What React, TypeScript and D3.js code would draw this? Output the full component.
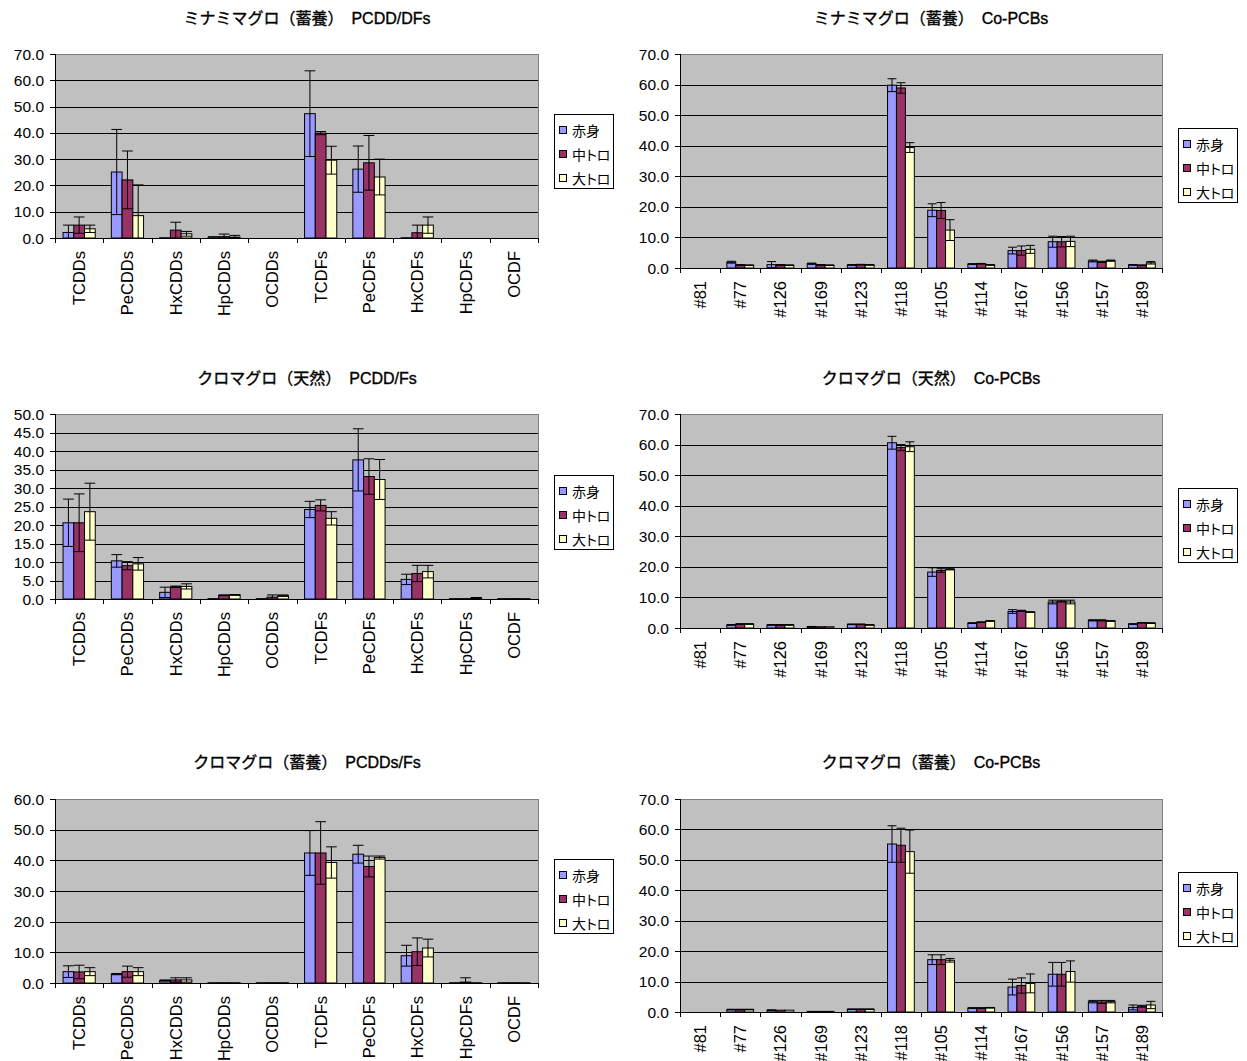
import { useEffect, useRef } from 'react';
import * as d3 from 'd3';

// 系列
const seriesNames = ['赤身', '中トロ', '大トロ'];
const seriesColors = ['#9999FF', '#993366', '#FFFFCC'];

// カテゴリ
const pcddCats = ['TCDDs', 'PeCDDs', 'HxCDDs', 'HpCDDs', 'OCDDs', 'TCDFs', 'PeCDFs', 'HxCDFs', 'HpCDFs', 'OCDF'];
const pcbCats = ['#81', '#77', '#126', '#169', '#123', '#118', '#105', '#114', '#167', '#156', '#157', '#189'];

// ミナミマグロ（蓄養） PCDD/DFs
const p1Akami = [2.1, 25.1, 0.1, 0.1, 0, 47.3, 26.2, 0.1, 0, 0];
const p1AkamiSd = [2.8, 16.2, 0, 0.4, 0, 16.3, 8.8, 0, 0, 0];
const p1Chutoro = [4.9, 22.1, 3.0, 0.5, 0, 39.9, 28.6, 2.0, 0, 0];
const p1ChutoroSd = [3.1, 11.0, 3.0, 1.0, 0, 0.6, 10.4, 2.9, 0, 0];
const p1Otoro = [3.5, 8.5, 1.6, 0.3, 0, 29.6, 23.2, 4.9, 0, 0];
const p1OtoroSd = [1.4, 11.7, 0.9, 0.7, 0, 5.3, 6.8, 3.1, 0, 0];

// ミナミマグロ（蓄養） Co-PCBs
const p2Akami = [0, 1.9, 1.1, 1.4, 1.0, 59.8, 18.9, 1.3, 5.7, 8.6, 2.3, 1.0];
const p2AkamiSd = [0, 0.3, 1.0, 0.2, 0.1, 2.1, 2.1, 0.1, 1.1, 1.8, 0.3, 0.1];
const p2Chutoro = [0, 1.0, 1.0, 1.0, 1.1, 58.9, 18.8, 1.4, 5.7, 8.6, 2.0, 0.9];
const p2ChutoroSd = [0, 0.1, 0.1, 0.1, 0.1, 1.7, 2.6, 0.1, 1.5, 1.7, 0.2, 0.1];
const p2Otoro = [0, 0.9, 0.9, 0.9, 1.0, 39.4, 12.4, 1.0, 6.1, 8.7, 2.4, 1.7];
const p2OtoroSd = [0, 0.1, 0.1, 0.1, 0.1, 1.6, 3.4, 0.1, 1.3, 1.7, 0.2, 0.4];

// クロマグロ（天然） PCDD/Fs
const p3Akami = [20.6, 10.3, 1.8, 0.1, 0.1, 24.2, 37.6, 5.3, 0.1, 0.1];
const p3AkamiSd = [6.4, 1.7, 1.4, 0, 0, 2.2, 8.4, 1.4, 0, 0];
const p3Chutoro = [20.6, 9.0, 3.3, 1.0, 0.5, 25.3, 33.1, 6.9, 0.1, 0.1];
const p3ChutoroSd = [7.8, 1.1, 0.2, 0.1, 0.6, 1.5, 4.8, 2.2, 0, 0];
const p3Otoro = [23.6, 9.5, 3.4, 1.1, 0.9, 21.8, 32.3, 7.4, 0.3, 0.1];
const p3OtoroSd = [7.7, 1.7, 0.7, 0.1, 0.2, 1.8, 5.4, 1.7, 0.1, 0];

// クロマグロ（天然） Co-PCBs
const p4Akami = [0, 1.0, 1.0, 0.4, 1.2, 60.6, 18.3, 1.6, 5.4, 8.5, 2.5, 1.3];
const p4AkamiSd = [0, 0.1, 0.1, 0.1, 0.1, 2.1, 1.4, 0.1, 0.6, 0.6, 0.2, 0.1];
const p4Chutoro = [0, 1.3, 1.0, 0.4, 1.2, 59.0, 18.8, 1.9, 5.6, 8.8, 2.5, 1.7];
const p4ChutoroSd = [0, 0.1, 0.1, 0, 0.1, 1.0, 0.6, 0.1, 0.2, 0.3, 0.2, 0.1];
const p4Otoro = [0, 1.3, 1.0, 0.4, 1.0, 59.3, 19.2, 2.3, 5.2, 8.5, 2.3, 1.6];
const p4OtoroSd = [0, 0.1, 0.1, 0, 0.1, 1.6, 0.2, 0.1, 0.1, 0.6, 0.1, 0.1];

// クロマグロ（蓄養） PCDDs/Fs
const p5Akami = [3.7, 2.9, 0.8, 0.1, 0.1, 42.4, 42.0, 8.9, 0.1, 0.1];
const p5AkamiSd = [1.9, 0.2, 0.2, 0, 0, 7.3, 2.9, 3.4, 0, 0];
const p5Chutoro = [3.6, 3.7, 1.0, 0.1, 0.1, 42.4, 38.0, 10.2, 0.3, 0.1];
const p5ChutoroSd = [2.2, 1.8, 0.7, 0, 0, 10.2, 3.4, 4.5, 1.4, 0];
const p5Otoro = [3.7, 3.7, 1.0, 0.1, 0.1, 39.3, 40.9, 11.4, 0.1, 0.1];
const p5OtoroSd = [1.3, 1.3, 0.7, 0, 0, 5.1, 0.5, 2.9, 0, 0];

// クロマグロ（蓄養） Co-PCBs
const p6Akami = [0, 0.8, 0.6, 0.2, 0.9, 55.2, 17.2, 1.3, 8.2, 12.4, 3.4, 1.5];
const p6AkamiSd = [0, 0.1, 0.1, 0, 0.1, 6.0, 1.6, 0.1, 2.6, 3.9, 0.4, 0.8];
const p6Chutoro = [0, 0.8, 0.6, 0.2, 0.9, 54.8, 17.2, 1.3, 8.7, 12.4, 3.3, 1.9];
const p6ChutoroSd = [0, 0.1, 0, 0, 0.1, 5.6, 1.6, 0.1, 2.5, 3.9, 0.5, 0.3];
const p6Otoro = [0, 0.8, 0.6, 0.2, 0.9, 52.7, 17.0, 1.4, 9.4, 13.3, 3.4, 2.3];
const p6OtoroSd = [0, 0.1, 0, 0, 0.1, 7.1, 0.6, 0.1, 3.1, 3.5, 0.4, 1.2];

const FONT = '"Liberation Sans", Arial, "Noto Sans CJK JP", sans-serif';

interface Panel {
  title: string;
  cats: string[];
  means: number[][];
  sds: number[][];
  yMax: number;
  yStep: number;
  // レイアウト
  left: number;
  right: number;
  top: number;
  bottom: number;
  legendX: number;
  legendY: number;
  titleX: number;
  titleY: number;
}

const panels: Panel[] = [
  {
    title: 'ミナミマグロ（蓄養）　PCDD/DFs', cats: pcddCats,
    means: [p1Akami, p1Chutoro, p1Otoro], sds: [p1AkamiSd, p1ChutoroSd, p1OtoroSd],
    yMax: 70, yStep: 10,
    left: 55, right: 538, top: 54, bottom: 238, legendX: 554, legendY: 114, titleX: 307, titleY: 24
  },
  {
    title: 'ミナミマグロ（蓄養）　Co-PCBs', cats: pcbCats,
    means: [p2Akami, p2Chutoro, p2Otoro], sds: [p2AkamiSd, p2ChutoroSd, p2OtoroSd],
    yMax: 70, yStep: 10,
    left: 680, right: 1162, top: 54, bottom: 268, legendX: 1178, legendY: 128, titleX: 931, titleY: 24
  },
  {
    title: 'クロマグロ（天然）　PCDD/Fs', cats: pcddCats,
    means: [p3Akami, p3Chutoro, p3Otoro], sds: [p3AkamiSd, p3ChutoroSd, p3OtoroSd],
    yMax: 50, yStep: 5,
    left: 55, right: 538, top: 414, bottom: 599, legendX: 554, legendY: 475, titleX: 307, titleY: 384
  },
  {
    title: 'クロマグロ（天然）　Co-PCBs', cats: pcbCats,
    means: [p4Akami, p4Chutoro, p4Otoro], sds: [p4AkamiSd, p4ChutoroSd, p4OtoroSd],
    yMax: 70, yStep: 10,
    left: 680, right: 1162, top: 414, bottom: 628, legendX: 1178, legendY: 488, titleX: 931, titleY: 384
  },
  {
    title: 'クロマグロ（蓄養）　PCDDs/Fs', cats: pcddCats,
    means: [p5Akami, p5Chutoro, p5Otoro], sds: [p5AkamiSd, p5ChutoroSd, p5OtoroSd],
    yMax: 60, yStep: 10,
    left: 55, right: 538, top: 799, bottom: 983, legendX: 554, legendY: 859, titleX: 307, titleY: 768
  },
  {
    title: 'クロマグロ（蓄養）　Co-PCBs', cats: pcbCats,
    means: [p6Akami, p6Chutoro, p6Otoro], sds: [p6AkamiSd, p6ChutoroSd, p6OtoroSd],
    yMax: 70, yStep: 10,
    left: 680, right: 1162, top: 799, bottom: 1012, legendX: 1178, legendY: 872, titleX: 931, titleY: 768
  }
];

const drawPanel = (svg: d3.Selection<SVGSVGElement, unknown, null, undefined>, p: Panel) => {
  const g = svg.append('g');

  const x0 = d3.scaleBand<string>().domain(p.cats).range([p.left, p.right]);
  const x1 = d3.scaleBand<number>()
    .domain(d3.range(seriesNames.length))
    .range([0, x0.bandwidth()])
    .paddingOuter(0.75);
  const y = d3.scaleLinear().domain([0, p.yMax]).range([p.bottom, p.top]);
  const ticks = d3.range(0, p.yMax + p.yStep / 2, p.yStep);

  // プロットエリア
  g.append('rect')
    .attr('x', p.left + 0.5)
    .attr('y', p.top + 0.5)
    .attr('width', p.right - p.left)
    .attr('height', p.bottom - p.top)
    .attr('fill', '#C0C0C0')
    .attr('stroke', '#808080');

  // 目盛線
  g.selectAll('line.grid')
    .data(ticks.filter(t => t > 0 && t < p.yMax))
    .enter()
    .append('line')
    .attr('x1', p.left)
    .attr('x2', p.right)
    .attr('y1', d => Math.round(y(d)) + 0.5)
    .attr('y2', d => Math.round(y(d)) + 0.5)
    .attr('stroke', '#000');

  // 軸
  g.append('line')
    .attr('x1', p.left + 0.5).attr('x2', p.left + 0.5)
    .attr('y1', p.top).attr('y2', p.bottom + 1)
    .attr('stroke', '#000');
  g.append('line')
    .attr('x1', p.left).attr('x2', p.right + 1)
    .attr('y1', p.bottom + 0.5).attr('y2', p.bottom + 0.5)
    .attr('stroke', '#000');

  // Y 目盛
  g.selectAll('line.ytick')
    .data(ticks)
    .enter()
    .append('line')
    .attr('x1', p.left - 5)
    .attr('x2', p.left)
    .attr('y1', d => Math.round(y(d)) + 0.5)
    .attr('y2', d => Math.round(y(d)) + 0.5)
    .attr('stroke', '#000');

  g.selectAll('text.ylab')
    .data(ticks)
    .enter()
    .append('text')
    .attr('x', p.left - 11)
    .attr('y', d => y(d))
    .attr('dy', '0.36em')
    .attr('text-anchor', 'end')
    .attr('font-family', FONT)
    .attr('font-size', 15.5)
    .attr('fill', '#000')
    .text(d => d3.format('.1f')(d));

  // X 目盛 (カテゴリ境界)
  const bounds = p.cats.map(c => x0(c) as number).concat([p.right]);
  g.selectAll('line.xtick')
    .data(bounds)
    .enter()
    .append('line')
    .attr('x1', d => Math.round(d) + 0.5)
    .attr('x2', d => Math.round(d) + 0.5)
    .attr('y1', p.bottom)
    .attr('y2', p.bottom + 5)
    .attr('stroke', '#000');

  g.selectAll('text.xlab')
    .data(p.cats)
    .enter()
    .append('text')
    .attr('transform', d => `translate(${(x0(d) as number) + x0.bandwidth() / 2},${p.bottom + 13}) rotate(-90)`)
    .attr('dy', '0.36em')
    .attr('text-anchor', 'end')
    .attr('font-family', FONT)
    .attr('font-size', 16.5)
    .attr('fill', '#000')
    .text(d => d);

  // 棒
  p.means.forEach((vals, si) => {
    g.selectAll(`rect.bar${si}`)
      .data(vals)
      .enter()
      .append('rect')
      .attr('x', (_, i) => (x0(p.cats[i]) as number) + (x1(si) as number))
      .attr('y', d => y(d))
      .attr('width', x1.bandwidth())
      .attr('height', d => y(0) - y(d))
      .attr('fill', seriesColors[si])
      .attr('stroke', '#000')
      .attr('stroke-width', 1);
  });

  // 誤差範囲
  p.means.forEach((vals, si) => {
    vals.forEach((m, i) => {
      const sd = p.sds[si][i];
      if (sd <= 0) return;
      const cx = (x0(p.cats[i]) as number) + (x1(si) as number) + x1.bandwidth() / 2;
      const hw = x1.bandwidth() / 2;
      const hi = y(m + sd);
      const loV = m - sd;
      const lo = y(Math.max(0, loV));
      g.append('line')
        .attr('x1', cx).attr('x2', cx)
        .attr('y1', hi).attr('y2', lo)
        .attr('stroke', '#000');
      g.append('line')
        .attr('x1', cx - hw).attr('x2', cx + hw)
        .attr('y1', hi).attr('y2', hi)
        .attr('stroke', '#000');
      if (loV > 0) {
        g.append('line')
          .attr('x1', cx - hw).attr('x2', cx + hw)
          .attr('y1', lo).attr('y2', lo)
          .attr('stroke', '#000');
      }
    });
  });

  // 凡例
  const lg = g.append('g').attr('transform', `translate(${p.legendX},${p.legendY})`);
  lg.append('rect')
    .attr('x', 0.5).attr('y', 0.5)
    .attr('width', 59).attr('height', 74)
    .attr('fill', '#fff')
    .attr('stroke', '#000');
  seriesNames.forEach((name, si) => {
    const cy = 17 + si * 24;
    lg.append('rect')
      .attr('x', 5.5).attr('y', cy - 4.5)
      .attr('width', 7).attr('height', 7)
      .attr('fill', seriesColors[si])
      .attr('stroke', '#000');
    lg.append('text')
      .attr('x', 18)
      .attr('y', cy)
      .attr('dy', '0.36em')
      .attr('font-family', '"Noto Sans CJK JP", sans-serif')
      .attr('font-size', 14)
      .style('font-feature-settings', '"palt"')
      .attr('fill', '#000')
      .text(name);
  });

  // タイトル
  g.append('text')
    .attr('x', p.titleX)
    .attr('y', p.titleY)
    .attr('text-anchor', 'middle')
    .attr('font-family', FONT)
    .attr('font-size', 16)
    .attr('stroke', '#000')
    .attr('stroke-width', 0.35)
    .attr('fill', '#000')
    .text(p.title);
};

export default function App() {
  const svgRef = useRef<SVGSVGElement>(null);

  useEffect(() => {
    if (!svgRef.current) return;
    const svg = d3.select(svgRef.current);
    svg.selectAll('*').remove();
    svg.append('rect').attr('width', 1247).attr('height', 1061).attr('fill', '#fff');
    panels.forEach(p => drawPanel(svg, p));
  }, []);

  return (
    <svg
      ref={svgRef}
      width={1247}
      height={1061}
      style={{ position: 'absolute', left: 0, top: 0, display: 'block' }}
    />
  );
}
